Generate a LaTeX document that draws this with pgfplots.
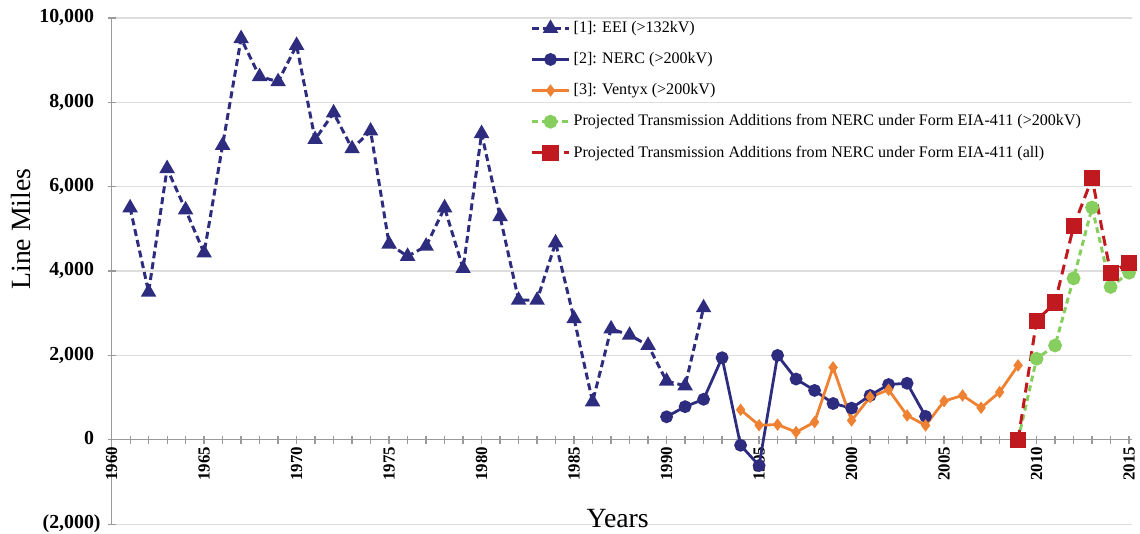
\documentclass[border=0pt]{standalone}
\usepackage{fontspec}
\setmainfont{Liberation Serif}
\usepackage{pgfplots}
\pgfplotsset{compat=1.18}
\definecolor{navy}{HTML}{2E2C7E}
\definecolor{ventyx}{HTML}{EE8232}
\definecolor{projg}{HTML}{86CF5E}
\definecolor{projr}{HTML}{C01A20}
\definecolor{gridc}{HTML}{DDDDDD}
\definecolor{axisgray}{HTML}{9A9A9A}
\begin{document}
\begin{tikzpicture}
\begin{axis}[
  scale only axis, width=512bp, height=254bp,
  xmin=1960, xmax=2015.16, ymin=-2000, ymax=10000,
  axis x line=middle, axis y line=left,
  axis line style={-, color=axisgray, line width=0.7bp},
  hide obscured x ticks=false, hide obscured y ticks=false,
  scaled y ticks=false, scaled x ticks=false,
  xtick={1960,1965,...,2015},
  minor xtick={1961,...,2014},
  ytick={-2000,0,2000,4000,6000,8000,10000},
  yticklabels={{(2,000)},{0\phantom{)}},{2,000\phantom{)}},{4,000\phantom{)}},{6,000\phantom{)}},{8,000\phantom{)}},{10,000\phantom{)}}},
  xticklabels={1960,1965,1970,1975,1980,1985,1990,1995,2000,2005,2010,2015},
  tick align=center,
  major tick length=4bp, minor tick length=4bp,
  every tick/.style={color=axisgray, line width=0.6bp},
  ymajorgrids, grid style={color=gridc, line width=0.6bp},
  xticklabel style={font=\fontsize{8.5}{9}\selectfont\bfseries, rotate=90, anchor=east},
  xticklabel shift=-2bp,
  yticklabel style={font=\fontsize{10}{11}\selectfont\bfseries, anchor=east},
  yticklabel shift=0bp,
  xlabel={Years}, ylabel={Line Miles},
  every axis x label/.style={at={(axis description cs:0.496,0)}, anchor=base, yshift=-1.5bp, font=\fontsize{14}{16}\selectfont},
  every axis y label/.style={at={([xshift=-45.5bp]axis description cs:0,0.583)}, rotate=90, anchor=center, font=\fontsize{14}{16}\selectfont},
  legend style={at={(axis description cs:0.41,1.0)}, anchor=north west, draw=none, fill=none,
    font=\fontsize{8.1}{9}\selectfont, row sep=5.5bp, inner sep=0pt, nodes={inner sep=1.5bp}},
  legend cell align=left,
  legend image code/.code={\draw[mark repeat=2,mark phase=2,#1] plot coordinates {(0cm,0cm)(0.33cm,0cm)(0.66cm,0cm)};},
]
\addplot[navy, line width=1.5bp, dash pattern=on 3.5bp off 2bp, mark=triangle*, mark size=3bp, mark options={solid}] coordinates {
(1961,5500)(1962,3500)(1963,6430)(1964,5450)(1965,4430)(1966,6980)(1967,9510)(1968,8610)
(1969,8490)(1970,9350)(1971,7120)(1972,7750)(1973,6900)(1974,7320)(1975,4640)(1976,4350)
(1977,4590)(1978,5500)(1979,4060)(1980,7260)(1981,5290)(1982,3310)(1983,3310)(1984,4670)
(1985,2870)(1986,900)(1987,2630)(1988,2480)(1989,2240)(1990,1390)(1991,1280)(1992,3130)};
\addlegendentry{[1]: EEI (>132kV)}
\addplot[navy, line width=1.4bp, mark=*, mark size=2.5bp] coordinates {
(1990,545)(1991,785)(1992,960)(1993,1945)(1994,-130)(1995,-610)(1996,2000)(1997,1440)
(1998,1170)(1999,860)(2000,750)(2001,1050)(2002,1310)(2003,1340)(2004,555)};
\addlegendentry{[2]: NERC (>200kV)}
\addplot[ventyx, line width=1.4bp, mark=diamond*, mark size=2bp] coordinates {
(1994,711)(1995,345)(1996,360)(1997,182)(1998,419)(1999,1715)(2000,458)(2001,1012)
(2002,1186)(2003,577)(2004,340)(2005,917)(2006,1051)(2007,759)(2008,1130)(2009,1763)};
\addlegendentry{[3]: Ventyx (>200kV)}
\addplot[projg, line width=1.5bp, dash pattern=on 3bp off 2bp, mark=*, mark size=2.7bp, mark options={solid}] coordinates {
(2009,0)(2010,1922)(2011,2235)(2012,3827)(2013,5506)(2014,3624)(2015,3961)};
\addlegendentry{Projected Transmission Additions from NERC under Form EIA-411 (>200kV)}
\addplot[projr, line width=1.5bp, dash pattern=on 5bp off 3bp, mark=square*, mark size=3.3bp, mark options={solid}] coordinates {
(2009,0)(2010,2824)(2011,3255)(2012,5059)(2013,6196)(2014,3961)(2015,4196)};
\addlegendentry{Projected Transmission Additions from NERC under Form EIA-411 (all)}
\coordinate (BL) at (rel axis cs:0,0);
\coordinate (TR) at (rel axis cs:1,1);
\end{axis}
\pgfresetboundingbox
\path ([xshift=-56bp,yshift=-4.75bp]BL) rectangle ([xshift=4bp,yshift=9bp]TR);
\end{tikzpicture}
\end{document}
